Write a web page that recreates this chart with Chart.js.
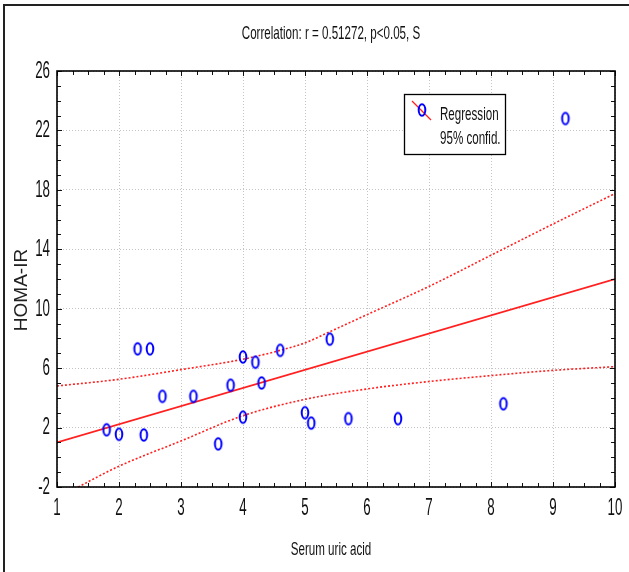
<!DOCTYPE html>
<html>
<head>
<meta charset="utf-8">
<script src="https://cdn.jsdelivr.net/npm/chart.js@4.4.1/dist/chart.umd.min.js"></script>
<style>
  html, body { margin: 0; padding: 0; background: #fff; }
  #wrap { width: 629px; height: 572px; }
</style>
</head>
<body>
<div id="wrap"><canvas id="graphic-corr" width="629" height="572"></canvas></div>
<script>
const xTicks = [1, 2, 3, 4, 5, 6, 7, 8, 9, 10];
const yTicks = [-2, 2, 6, 10, 14, 18, 22, 26];

// serum uric acid vs HOMA-IR
const uricAcid = [1.8, 2.0, 2.3, 2.5, 2.4, 2.7, 3.2, 3.6, 3.8, 4.0, 4.0, 4.2, 4.3, 4.6, 5.0, 5.1, 5.4, 5.7, 6.5, 8.2, 9.2];
const homaIR = [1.85, 1.55, 7.3, 7.3, 1.5, 4.1, 4.1, 0.9, 4.85, 6.75, 2.7, 6.4, 5.0, 7.2, 3.0, 2.3, 7.95, 2.6, 2.6, 3.6, 22.8];

const regX = [1, 10];
const regY = [1.0, 12.0];
const upperX = [1, 2, 3, 4, 4.6, 5, 5.4, 6, 7, 8, 9, 10];
const upperY = [4.8, 5.25, 5.9, 6.6, 7.2, 7.7, 8.45, 9.6, 11.5, 13.6, 15.7, 17.75];
const lowerX = [1.34, 2, 3, 4, 5, 6, 7, 8, 9, 10];
const lowerY = [-2, -0.6, 1.1, 2.8, 3.9, 4.6, 5.1, 5.5, 5.85, 6.1];

const titleText = 'Correlation: r = 0.51272, p<0.05, S';
const xTitle = 'Serum uric acid';
const yTitle = 'HOMA-IR';
const legendLabels = ['Regression', '95% confid.'];

const FONT = '"Liberation Sans", Arial, sans-serif';

function pairs(xs, ys) {
    return xs.map((x, i) => ({ x: x, y: ys[i] }));
}

// hollow blue ellipse marker
function ellipseMarker() {
    const c = document.createElement('canvas');
    c.width = 12;
    c.height = 16;
    const g = c.getContext('2d');
    g.strokeStyle = '#0000ff';
    g.lineWidth = 2;
    g.beginPath();
    g.ellipse(6, 8, 3.3, 5.7, 0, 0, Math.PI * 2);
    g.stroke();
    return c;
}
const marker = ellipseMarker();

function squeezed(ctx, text, x, y, size, align, k) {
    ctx.save();
    ctx.font = size + 'px ' + FONT;
    ctx.translate(x, y);
    ctx.scale(k || 0.61, 1);
    ctx.textAlign = align;
    ctx.fillText(text, 0, 0);
    ctx.restore();
}

const decor = {
    id: 'decor',
    beforeDraw(chart) {
        const ctx = chart.ctx;
        ctx.save();
        ctx.fillStyle = '#fff';
        ctx.fillRect(0, 0, chart.width, chart.height);
        ctx.fillStyle = '#222';
        ctx.fillRect(3, 4, 2, chart.height - 4);
        ctx.fillRect(3, 4, chart.width - 3, 2);
        ctx.restore();
    },
    afterDraw(chart) {
        const ctx = chart.ctx;
        const a = chart.chartArea;
        const xs = chart.scales.x;
        const ys = chart.scales.y;
        ctx.save();

        // tick marks, inward on all four sides
        ctx.strokeStyle = '#111';
        ctx.lineWidth = 1;
        ctx.beginPath();
        for (let v = 1; v <= 10.001; v += 0.25) {
            const px = Math.round(xs.getPixelForValue(v)) + 0.5;
            const len = Number.isInteger(v) ? 5 : 4;
            ctx.moveTo(px, a.bottom); ctx.lineTo(px, a.bottom - len);
            ctx.moveTo(px, a.top); ctx.lineTo(px, a.top + len);
        }
        for (let v = -2; v <= 26; v += 1) {
            const py = Math.round(ys.getPixelForValue(v)) + 0.5;
            const len = yTicks.includes(v) ? 5 : 4;
            ctx.moveTo(a.left, py); ctx.lineTo(a.left + len, py);
            ctx.moveTo(a.right, py); ctx.lineTo(a.right - len, py);
        }
        ctx.stroke();

        // plot frame
        ctx.lineWidth = 1.6;
        ctx.strokeStyle = '#000';
        ctx.strokeRect(a.left, a.top, a.right - a.left, a.bottom - a.top);

        // tick labels
        ctx.fillStyle = '#111';
        ctx.textBaseline = 'alphabetic';
        xTicks.forEach(v => {
            squeezed(ctx, String(v), xs.getPixelForValue(v), a.bottom + 28, 23, 'center', 0.58);
        });
        ctx.textBaseline = 'middle';
        yTicks.forEach(v => {
            squeezed(ctx, String(v), a.left - 7, ys.getPixelForValue(v) + 0.5, 23, 'right', 0.58);
        });

        // titles
        ctx.textBaseline = 'alphabetic';
        squeezed(ctx, titleText, 331, 39, 19, 'center');
        squeezed(ctx, xTitle, 331, 555, 19, 'center');

        ctx.save();
        ctx.translate(22, 290);
        ctx.rotate(-Math.PI / 2);
        ctx.font = '19px ' + FONT;
        ctx.fillStyle = '#222';
        ctx.textAlign = 'center';
        ctx.textBaseline = 'middle';
        ctx.fillText(yTitle, 0, 0);
        ctx.restore();

        // legend box
        ctx.fillStyle = '#fff';
        ctx.fillRect(404, 94, 102, 61);
        ctx.lineWidth = 1.3;
        ctx.strokeStyle = '#000';
        ctx.strokeRect(404.5, 94.5, 101, 60);
        ctx.strokeStyle = '#ff2020';
        ctx.lineWidth = 1.3;
        ctx.beginPath();
        ctx.moveTo(412, 101);
        ctx.lineTo(431, 120);
        ctx.stroke();
        ctx.drawImage(marker, 416, 102);
        ctx.fillStyle = '#111';
        squeezed(ctx, legendLabels[0], 440, 120, 19, 'left');
        squeezed(ctx, legendLabels[1], 440, 144, 19, 'left');

        ctx.restore();
    }
};

const data = {
    datasets: [
        {
            label: 'Data',
            data: pairs(uricAcid, homaIR),
            showLine: false,
            pointStyle: marker,
            pointRadius: 6,
            order: 0
        },
        {
            label: 'Regression',
            data: pairs(regX, regY),
            showLine: true,
            borderColor: '#ff2020',
            borderWidth: 1.8,
            pointRadius: 0,
            order: 1
        },
        {
            label: '95% upper',
            data: pairs(upperX, upperY),
            showLine: true,
            borderColor: '#ff2020',
            borderWidth: 1.6,
            borderDash: [2, 2],
            cubicInterpolationMode: 'monotone',
            pointRadius: 0,
            order: 2
        },
        {
            label: '95% lower',
            data: pairs(lowerX, lowerY),
            showLine: true,
            borderColor: '#ff2020',
            borderWidth: 1.6,
            borderDash: [2, 2],
            cubicInterpolationMode: 'monotone',
            pointRadius: 0,
            order: 3
        }
    ]
};

const config = {
    type: 'scatter',
    data: data,
    options: {
        responsive: false,
        animation: false,
        events: [],
        layout: { padding: { left: 57, top: 71, right: 14, bottom: 85 } },
        plugins: {
            legend: { display: false },
            tooltip: { enabled: false },
            title: { display: false }
        },
        scales: {
            x: {
                type: 'linear',
                min: 1,
                max: 10,
                afterBuildTicks: s => { s.ticks = xTicks.map(v => ({ value: v })); },
                afterFit: s => { s.height = 0; },
                ticks: { display: false },
                grid: { color: '#c4c4c4', lineWidth: 1, drawTicks: false },
                border: { display: false, dash: [1, 2] }
            },
            y: {
                type: 'linear',
                min: -2,
                max: 26,
                afterBuildTicks: s => { s.ticks = yTicks.map(v => ({ value: v })); },
                afterFit: s => { s.width = 0; },
                ticks: { display: false },
                grid: { color: '#c4c4c4', lineWidth: 1, drawTicks: false },
                border: { display: false, dash: [1, 2] }
            }
        }
    },
    plugins: [decor]
};

new Chart(document.getElementById('graphic-corr'), config);
</script>
</body>
</html>
